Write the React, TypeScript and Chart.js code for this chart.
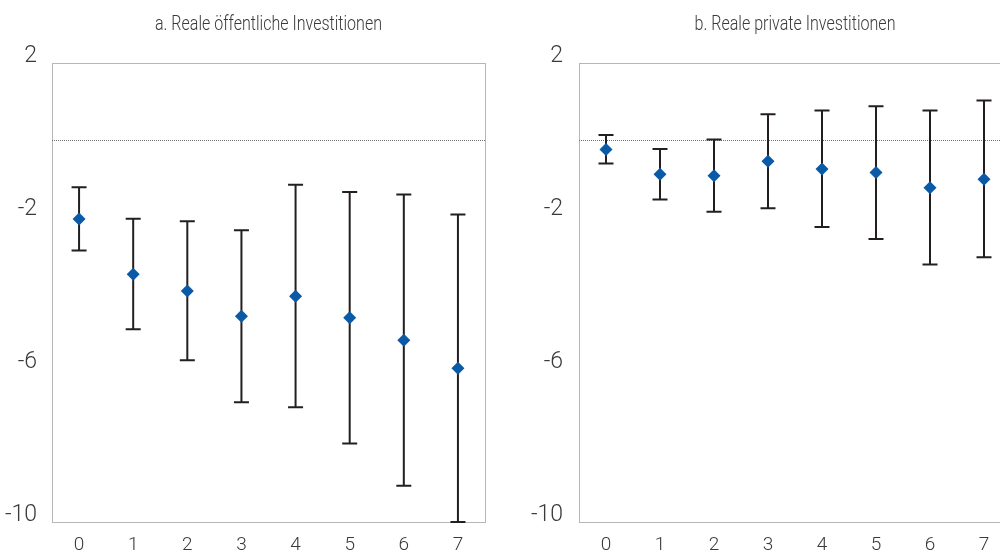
import React, { useEffect, useRef } from "react";
import { Chart, registerables } from "chart.js";

Chart.register(...registerables);

const horizons = ["0", "1", "2", "3", "4", "5", "6", "7"];
const yTicks = [2, -2, -6, -10];

const publicTitle = "a. Reale öffentliche Investitionen";
const publicMid = [-2.08, -3.52, -3.96, -4.62, -4.1, -4.66, -5.25, -5.98];
const publicLow = [-2.9, -4.96, -5.77, -6.87, -7.0, -7.95, -9.05, -10.0];
const publicHigh = [-1.25, -2.07, -2.14, -2.37, -1.18, -1.37, -1.44, -1.96];

const privateTitle = "b. Reale private Investitionen";
const privateMid = [-0.26, -0.91, -0.95, -0.57, -0.77, -0.86, -1.26, -1.04];
const privateLow = [-0.63, -1.57, -1.89, -1.8, -2.29, -2.6, -3.27, -3.08];
const privateHigh = [0.12, -0.25, 0.0, 0.66, 0.76, 0.87, 0.76, 1.02];

const FONT = "Roboto, 'Noto Sans', sans-serif";
const TEXT = "#3a3a3a";
const BLUE = "#0a5aa8";
const BAR = "#231f20";
const DOT = "#6e6e6e";

type PanelProps = {
  title: string;
  titleWidth: number;
  mid: number[];
  low: number[];
  high: number[];
  left: number;
  width: number;
  axisWidth: number;
  labelPad: number;
  rightPad: number;
};

function Panel(props: PanelProps) {
  const ref = useRef<HTMLCanvasElement | null>(null);
  useEffect(() => {
    if (!ref.current) return;
    const { title, titleWidth, mid, low, high, axisWidth, labelPad, rightPad } = props;

    const framePlugin = {
      id: "frame",
      beforeDatasetsDraw(chart: any) {
        const { ctx, chartArea } = chart;
        const y = chart.scales.y;
        const x = chart.scales.x;
        ctx.save();
        ctx.strokeStyle = DOT;
        ctx.lineWidth = 1;
        ctx.setLineDash([1, 1]);
        ctx.strokeRect(
          Math.round(chartArea.left) + 0.5,
          Math.round(chartArea.top) + 0.5,
          Math.round(chartArea.right - chartArea.left),
          Math.round(chartArea.bottom - chartArea.top)
        );
        const z = Math.round(y.getPixelForValue(0)) + 0.5;
        ctx.beginPath();
        ctx.moveTo(chartArea.left, z);
        ctx.lineTo(chartArea.right, z);
        ctx.stroke();
        ctx.setLineDash([]);
        // error bars
        ctx.strokeStyle = BAR;
        ctx.lineWidth = 2;
        for (let i = 0; i < mid.length; i++) {
          const px = x.getPixelForValue(i);
          const yl = y.getPixelForValue(low[i]);
          const yh = y.getPixelForValue(high[i]);
          ctx.beginPath();
          ctx.moveTo(px, yl);
          ctx.lineTo(px, yh);
          ctx.moveTo(px - 7.5, yl);
          ctx.lineTo(px + 7.5, yl);
          ctx.moveTo(px - 7.5, yh);
          ctx.lineTo(px + 7.5, yh);
          ctx.stroke();
        }
        ctx.restore();
      },
      afterDraw(chart: any) {
        const { ctx, chartArea } = chart;
        ctx.save();
        ctx.fillStyle = TEXT;
        ctx.font = `300 21px ${FONT}`;
        ctx.textAlign = "center";
        ctx.textBaseline = "middle";
        const w = ctx.measureText(title).width;
        const sx = Math.min(1, titleWidth / w);
        ctx.translate((chartArea.left + chartArea.right) / 2, 25);
        ctx.scale(sx, 1);
        ctx.fillText(title, 0, 0);
        ctx.restore();
      },
    };

    const chart = new Chart(ref.current, {
      type: "line",
      data: {
        labels: horizons,
        datasets: [
          {
            data: mid,
            showLine: false,
            pointStyle: "rectRot",
            pointRadius: 6.5,
            pointBackgroundColor: BLUE,
            pointBorderColor: BLUE,
            pointBorderWidth: 0,
          },
        ],
      },
      options: {
        animation: false,
        responsive: false,
        maintainAspectRatio: false,
        layout: { padding: { top: 63, right: rightPad, left: 0, bottom: 0 } },
        plugins: {
          legend: { display: false },
          title: { display: false },
          tooltip: { enabled: false },
        },
        scales: {
          x: {
            type: "category",
            offset: true,
            grid: { display: false, drawTicks: false },
            border: { display: false },
            ticks: {
              color: TEXT,
              font: { family: FONT, size: 19, weight: "300" },
              padding: 12,
            },
            afterFit(scale: any) {
              scale.height = 31;
            },
          },
          y: {
            min: -10,
            max: 2,
            afterBuildTicks(scale: any) {
              scale.ticks = yTicks.map((v) => ({ value: v }));
            },
            grid: { display: false, drawTicks: false },
            border: { display: false },
            ticks: {
              color: TEXT,
              font: { family: FONT, size: 23, weight: "300" },
              padding: labelPad,
              labelOffset: -7,
            },
            afterFit(scale: any) {
              scale.width = axisWidth;
            },
          },
        },
      },
      plugins: [framePlugin],
    });
    return () => chart.destroy();
  }, []);
  return (
    <canvas
      ref={ref}
      width={props.width}
      height={553}
      style={{ position: "absolute", left: props.left, top: 0, width: props.width, height: 553 }}
    />
  );
}

export default function App() {
  return (
    <div
      style={{
        position: "fixed",
        left: 0,
        top: 0,
        width: 1000,
        height: 553,
        overflow: "hidden",
        background: "#ffffff",
      }}
    >
      <Panel
        title={publicTitle}
        titleWidth={227}
        mid={publicMid}
        low={publicLow}
        high={publicHigh}
        left={0}
        width={500}
        axisWidth={52}
        labelPad={15}
        rightPad={15}
      />
      <Panel
        title={privateTitle}
        titleWidth={201}
        mid={privateMid}
        low={privateLow}
        high={privateHigh}
        left={500}
        width={520}
        axisWidth={79}
        labelPad={16}
        rightPad={9}
      />
    </div>
  );
}
